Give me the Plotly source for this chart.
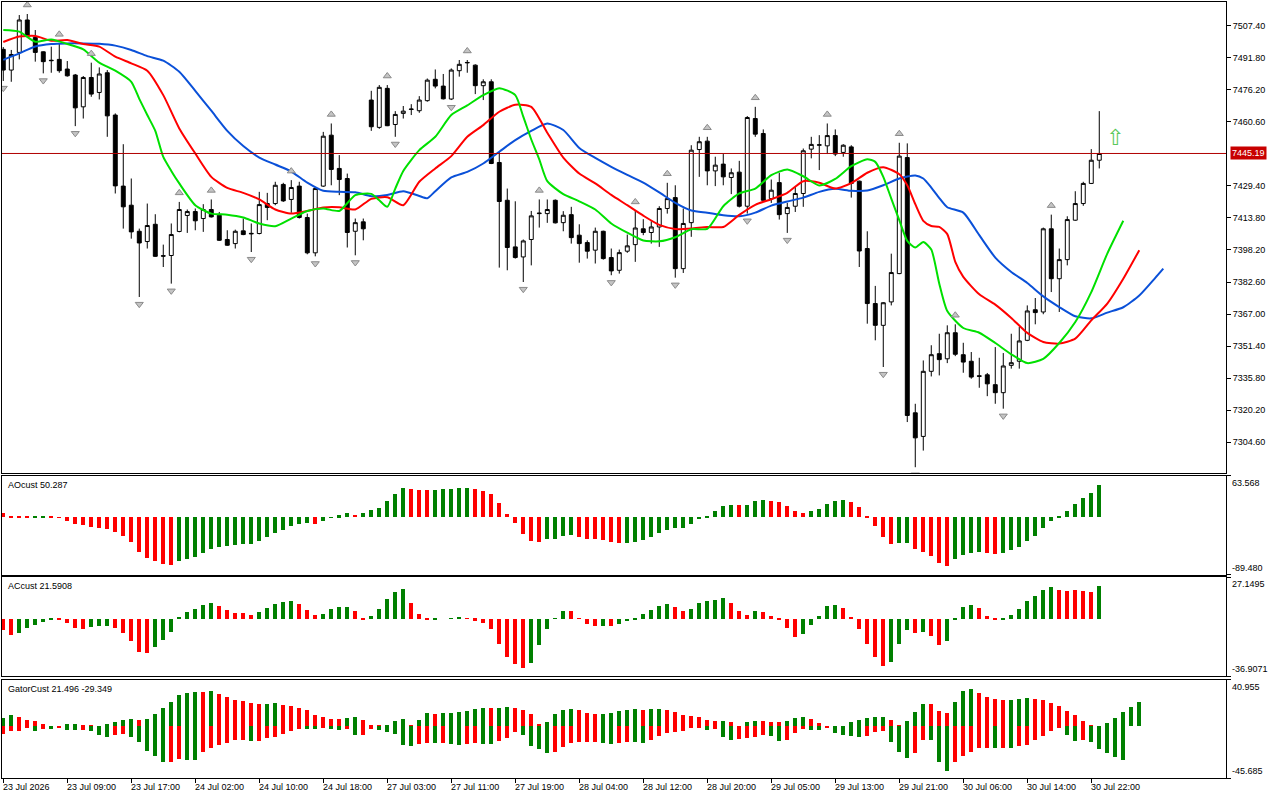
import plotly.graph_objects as go

### Data (H1 bars, 23 Jul - 30 Jul 2026) ###
#++++++++++++++++++++++++++++++++++++++++++++++++++++++++++++++++++++++++++++++#
bar_open = [
    7495.9, 7485.8, 7494.4, 7510.2, 7501.7, 7494.7, 7490.6, 7491.0, 7486.3, 7483.4,
    7467.9, 7482.2, 7474.9, 7484.5, 7463.9, 7429.3, 7420.0, 7407.3, 7402.3, 7410.7,
    7395.4, 7395.5, 7407.2, 7415.0, 7416.9, 7413.5, 7417.9, 7415.1, 7403.3, 7401.3,
    7407.5, 7406.3, 7406.2, 7420.8, 7420.8, 7430.1, 7422.8, 7429.3, 7414.0, 7396.8,
    7429.3, 7454.1, 7437.9, 7433.0, 7407.3, 7411.9, 7471.2, 7457.9, 7476.9, 7459.3,
    7464.7, 7466.6, 7466.0, 7470.9, 7481.3, 7478.0, 7471.7, 7485.5, 7489.3, 7488.2,
    7478.2, 7480.1, 7440.8, 7422.4, 7399.7, 7394.8, 7403.3, 7415.9, 7415.9, 7422.4,
    7411.5, 7415.4, 7405.4, 7401.8, 7398.1, 7407.3, 7394.5, 7388.3, 7397.6, 7400.8,
    7408.5, 7406.7, 7409.4, 7418.4, 7423.7, 7389.1, 7411.5, 7447.1, 7451.2, 7436.7,
    7440.0, 7433.5, 7436.1, 7419.5, 7462.2, 7454.9, 7423.2, 7431.0, 7415.9, 7419.5,
    7425.7, 7447.3, 7449.2, 7448.9, 7453.9, 7445.7, 7448.4, 7431.7, 7398.9, 7372.1,
    7361.5, 7372.9, 7386.7, 7443.2, 7318.9, 7307.4, 7339.1, 7347.7, 7345.2, 7357.9,
    7347.2, 7344.0, 7336.9, 7337.4, 7332.6, 7328.7, 7342.0, 7344.0, 7354.2, 7369.1,
    7368.0, 7408.5, 7384.2, 7393.5, 7412.7, 7420.8, 7430.6, 7441.9,
]
bar_high = [
    7497.0, 7495.6, 7512.6, 7513.1, 7505.3, 7494.9, 7497.2, 7498.8, 7490.2, 7483.9,
    7482.9, 7489.4, 7487.1, 7485.8, 7464.7, 7449.7, 7433.0, 7408.6, 7420.8, 7415.6,
    7400.8, 7411.1, 7421.6, 7417.9, 7418.4, 7420.5, 7422.8, 7416.7, 7407.8, 7408.1,
    7413.5, 7411.1, 7426.5, 7426.0, 7431.4, 7430.9, 7432.2, 7431.4, 7415.9, 7428.9,
    7455.7, 7459.8, 7444.4, 7435.4, 7413.5, 7413.5, 7475.7, 7478.5, 7478.5, 7465.8,
    7468.3, 7469.2, 7473.1, 7481.7, 7486.1, 7483.9, 7486.6, 7490.7, 7490.7, 7488.6,
    7481.3, 7481.3, 7446.0, 7428.1, 7421.9, 7403.3, 7417.2, 7422.8, 7422.8, 7422.8,
    7417.1, 7419.2, 7410.7, 7402.9, 7409.1, 7407.6, 7398.9, 7398.4, 7405.7, 7417.2,
    7413.2, 7412.2, 7419.5, 7430.9, 7429.7, 7418.4, 7449.2, 7453.3, 7453.3, 7443.6,
    7444.9, 7437.9, 7441.6, 7463.4, 7467.9, 7456.9, 7432.5, 7435.8, 7421.1, 7428.9,
    7447.6, 7453.3, 7454.1, 7459.8, 7456.9, 7449.7, 7449.2, 7432.0, 7407.3, 7380.7,
    7372.8, 7396.4, 7450.4, 7450.1, 7323.3, 7344.4, 7351.8, 7357.4, 7361.5, 7362.0,
    7353.0, 7348.5, 7345.7, 7338.3, 7350.9, 7348.0, 7357.4, 7360.7, 7371.2, 7374.8,
    7409.1, 7415.4, 7398.9, 7414.6, 7426.8, 7431.4, 7447.3, 7465.8,
]
bar_low = [
    7480.5, 7480.1, 7491.0, 7502.1, 7489.9, 7484.2, 7484.5, 7484.5, 7482.6, 7458.5,
    7462.2, 7472.8, 7471.5, 7453.3, 7425.7, 7408.6, 7403.7, 7375.3, 7398.9, 7394.8,
    7389.9, 7381.8, 7406.8, 7406.5, 7407.8, 7407.0, 7414.0, 7402.6, 7400.2, 7398.9,
    7405.4, 7397.2, 7405.8, 7412.7, 7420.0, 7421.6, 7416.3, 7413.5, 7396.1, 7395.1,
    7428.9, 7429.7, 7424.9, 7399.4, 7395.6, 7402.9, 7456.2, 7457.2, 7458.5, 7453.3,
    7462.2, 7463.9, 7465.0, 7470.4, 7476.9, 7471.5, 7471.2, 7482.6, 7484.5, 7474.1,
    7471.2, 7440.0, 7389.6, 7388.3, 7394.0, 7382.6, 7390.7, 7409.1, 7411.4, 7411.1,
    7407.3, 7401.3, 7392.0, 7394.0, 7391.6, 7393.5, 7385.9, 7386.7, 7396.8, 7392.4,
    7405.4, 7401.3, 7399.7, 7415.9, 7384.7, 7387.0, 7404.6, 7433.8, 7429.7, 7429.3,
    7429.7, 7425.4, 7418.9, 7415.9, 7453.3, 7421.9, 7421.1, 7413.0, 7406.5, 7416.7,
    7419.2, 7442.8, 7437.1, 7444.9, 7443.9, 7443.6, 7423.7, 7389.9, 7362.3, 7354.2,
    7341.2, 7371.2, 7386.4, 7314.4, 7292.4, 7300.5, 7336.6, 7337.1, 7343.1, 7346.5,
    7338.4, 7335.5, 7331.1, 7327.0, 7323.3, 7320.9, 7340.4, 7340.4, 7353.8, 7362.0,
    7366.9, 7377.7, 7368.0, 7390.7, 7412.4, 7419.7, 7430.3, 7437.9,
]
bar_close = [
    7485.8, 7493.4, 7510.2, 7502.4, 7494.4, 7489.9, 7490.4, 7485.5, 7483.0, 7467.4,
    7482.2, 7474.1, 7483.9, 7463.5, 7429.4, 7419.2, 7407.0, 7401.6, 7410.1, 7395.1,
    7395.2, 7405.7, 7417.9, 7416.9, 7412.4, 7417.9, 7414.3, 7402.9, 7400.5, 7407.3,
    7405.7, 7406.1, 7420.3, 7418.9, 7429.7, 7422.1, 7428.6, 7414.0, 7396.8, 7428.1,
    7453.6, 7437.4, 7432.5, 7406.7, 7411.5, 7408.5, 7458.2, 7477.4, 7458.7, 7464.2,
    7465.8, 7466.8, 7471.2, 7480.9, 7478.0, 7471.8, 7485.8, 7488.6, 7489.5, 7478.2,
    7480.1, 7440.3, 7421.8, 7399.4, 7394.5, 7402.6, 7414.8, 7416.1, 7417.9, 7411.4,
    7415.1, 7404.2, 7401.3, 7397.6, 7407.3, 7394.0, 7388.0, 7396.9, 7400.2, 7408.9,
    7406.7, 7409.4, 7418.4, 7423.2, 7389.1, 7411.1, 7446.8, 7450.9, 7436.7, 7439.5,
    7433.8, 7435.8, 7419.5, 7462.7, 7454.6, 7422.4, 7427.3, 7415.4, 7418.9, 7425.7,
    7446.5, 7449.6, 7449.4, 7453.9, 7444.9, 7449.2, 7430.6, 7397.7, 7372.1, 7361.5,
    7372.5, 7387.2, 7443.9, 7317.6, 7306.7, 7339.1, 7347.2, 7344.8, 7357.9, 7347.4,
    7343.6, 7336.3, 7336.7, 7333.0, 7328.7, 7341.7, 7343.3, 7353.9, 7368.5, 7367.7,
    7408.5, 7384.2, 7393.5, 7413.0, 7420.8, 7430.6, 7441.9, 7445.19,
]

# Bill Williams fractals (bar numbers)
fractal_up_bars = [3, 7, 11, 22, 26, 36, 41, 48, 58, 67, 79, 83, 88, 94, 103, 112, 119, 131]
fractal_down_bars = [0, 5, 9, 17, 21, 31, 39, 44, 49, 56, 65, 76, 84, 93, 98, 110, 114, 125]

# Alligator lines (bar number, value) - jaw blue, teeth red, lips green
jaw_bars = [0, 2, 4, 6, 8, 10, 12, 14, 16, 18, 20, 22, 24, 26, 28, 30, 32, 34, 36, 38,
            40, 42, 44, 46, 48, 50, 52, 53, 54, 56, 58, 60, 62, 64, 66, 68, 70, 72, 74, 76,
            78, 80, 82, 84, 86, 88, 90, 92, 94, 96, 98, 100, 102, 104, 106, 108, 110, 112,
            114, 115, 116, 117, 118, 120, 122, 124, 126, 128, 130, 132, 134, 136, 138, 140,
            142, 144, 145]
jaw_vals = [7490.8, 7493.9, 7497.3, 7498.5, 7498.8, 7498.8, 7498.6, 7497.7, 7495.6, 7492.6,
            7490.4, 7485.0, 7475.7, 7466.0, 7456.2, 7448.8, 7443.2, 7439.8, 7436.4, 7431.0,
            7427.0, 7426.5, 7426.3, 7424.4, 7425.0, 7426.8, 7424.5, 7423.4, 7426.8, 7433.5,
            7436.2, 7440.3, 7446.0, 7451.7, 7456.2, 7459.8, 7456.6, 7447.9, 7443.0, 7438.7,
            7434.8, 7431.0, 7426.2, 7421.1, 7417.4, 7416.3, 7415.1, 7414.6, 7416.4, 7419.8,
            7421.8, 7423.7, 7426.5, 7428.0, 7427.0, 7427.1, 7429.7, 7433.0, 7434.5, 7433.0,
            7428.6, 7423.5, 7419.0, 7416.4, 7405.4, 7394.5, 7387.5, 7382.1, 7375.6, 7370.4,
            7365.9, 7364.9, 7367.7, 7370.3, 7376.0, 7384.6, 7389.1]

teeth_bars = [0, 2, 4, 6, 8, 10, 12, 14, 16, 18, 20, 22, 24, 26, 28, 30, 32, 34, 36, 38,
              40, 42, 44, 46, 48, 50, 52, 54, 56, 58, 60, 62, 64, 66, 68, 70, 72, 74, 76, 78,
              80, 82, 84, 86, 88, 90, 92, 94, 96, 98, 100, 102, 104, 106, 108, 110, 112, 113,
              114, 115, 116, 117, 118, 119, 120, 122, 124, 126, 128, 130, 132, 134, 136, 138,
              140, 142]
teeth_vals = [7499.5, 7502.1, 7502.4, 7500.1, 7500.4, 7498.5, 7497.2, 7492.3, 7489.1, 7485.5,
              7473.6, 7457.4, 7445.2, 7433.8, 7428.4, 7426.0, 7422.8, 7417.9, 7415.9, 7417.2,
              7418.9, 7419.0, 7417.9, 7423.1, 7423.9, 7420.0, 7431.4, 7437.9, 7443.9, 7453.3,
              7459.0, 7465.5, 7468.9, 7467.9, 7455.3, 7443.2, 7435.4, 7430.6, 7425.0, 7420.0,
              7414.9, 7410.4, 7408.4, 7408.6, 7409.4, 7409.4, 7415.3, 7420.2, 7422.9, 7426.0,
              7431.7, 7430.9, 7428.1, 7430.7, 7435.8, 7438.5, 7435.1, 7429.7, 7420.5, 7412.4,
              7409.9, 7409.4, 7405.9, 7392.4, 7385.1, 7376.6, 7371.6, 7365.1, 7357.8, 7353.4,
              7352.6, 7355.0, 7363.9, 7372.1, 7384.2, 7398.1]

lips_bars = [0, 2, 4, 6, 8, 10, 12, 14, 16, 17, 18, 19, 20, 21, 22, 24, 26, 28, 30, 32,
             34, 36, 38, 40, 42, 44, 46, 47, 48, 49, 50, 52, 54, 56, 58, 60, 62, 64, 65, 66,
             67, 68, 70, 72, 74, 76, 78, 80, 82, 84, 86, 88, 90, 92, 94, 96, 98, 100, 102,
             104, 106, 108, 109, 110, 111, 112, 113, 114, 115, 116, 117, 118, 120, 122, 124,
             126, 128, 130, 132, 134, 136, 138, 140]
lips_vals = [7505.3, 7504.5, 7499.6, 7500.7, 7498.5, 7495.9, 7489.4, 7485.5, 7480.1, 7471.8,
             7463.9, 7456.2, 7443.5, 7436.7, 7430.6, 7420.0, 7415.9, 7415.4, 7414.0, 7411.1,
             7409.8, 7413.5, 7417.2, 7418.4, 7417.2, 7424.9, 7425.5, 7422.4, 7419.2, 7428.1,
             7436.7, 7446.8, 7453.3, 7463.9, 7468.6, 7473.6, 7477.0, 7473.6, 7463.1, 7452.0,
             7442.3, 7431.7, 7425.4, 7421.9, 7417.9, 7411.1, 7406.6, 7402.8, 7402.4, 7404.4,
             7408.3, 7408.5, 7419.5, 7425.7, 7428.1, 7434.6, 7437.4, 7434.1, 7429.6, 7432.8,
             7439.0, 7442.4, 7441.1, 7433.8, 7423.2, 7412.7, 7402.6, 7399.4, 7402.1, 7398.4,
             7381.8, 7368.5, 7360.2, 7357.9, 7352.9, 7347.4, 7343.1, 7345.2, 7352.9, 7363.1,
             7377.7, 7396.4, 7412.4]

# Awesome oscillator (g = rising bar, r = falling bar)
ao_vals = [
    6.5, 0.8, 0.6, 0.4, 0.6, 0.9, 0.5, -0.6, -6.2, -11.3,
    -12.9, -14.9, -16.5, -19.1, -22.7, -29.9, -39.2, -54.6, -63.9, -68.6,
    -73.2, -74.7, -68.6, -65.5, -61.9, -56.2, -50.0, -46.4, -44.8, -43.3,
    -42.3, -41.9, -37.6, -30.9, -24.7, -20.1, -13.9, -10.0, -9.6, -10.1,
    -6.2, -1.0, 2.6, 6.7, 3.1, 6.7, 10.5, 14.4, 24.7, 35.1,
    44.3, 42.8, 41.8, 41.5, 42.6, 43.0, 43.2, 44.3, 44.5, 42.8,
    40.2, 35.1, 21.1, 4.1, -8.8, -26.8, -37.1, -38.7, -34.5, -34.0,
    -29.4, -27.8, -30.9, -34.0, -34.5, -36.1, -38.7, -40.7, -40.2, -38.7,
    -35.6, -30.9, -24.7, -20.1, -17.0, -16.8, -10.8, -2.6, 0.5, 9.3,
    17.0, 18.6, 18.4, 18.7, 24.7, 26.3, 24.7, 23.2, 17.0, 9.3,
    5.7, 9.3, 12.4, 19.6, 24.7, 26.3, 23.2, 15.5, 1.0, -13.9,
    -30.9, -41.8, -40.7, -40.5, -49.5, -54.6, -60.8, -71.6, -75.8, -65.5,
    -59.3, -56.2, -54.6, -56.2, -56.4, -56.0, -51.5, -46.4, -37.1, -29.4,
    -17.5, -6.2, 1.0, 9.3, 19.6, 28.9, 36.6, 50.3,
]
ao_colors = ("rrrrggrrrr" "rrrrrrrrrr" "rrgggggggg" "gggggggggr" "ggggrggggg"
             "grrrgggggr" "rrrrrrrrgg" "ggrrrrrrgg" "gggggggggg" "ggrgggrrrr"
             "rgggggrrrr" "rrggrrrrrg" "gggrrggggg" "gggggggg")

# Accelerator oscillator
ac_vals = [
    -6.9, -10.3, -9.1, -5.8, -3.7, -1.9, -0.4, -0.6, -2.8, -5.8,
    -6.5, -5.4, -4.5, -4.4, -5.8, -8.8, -14.0, -21.1, -22.0, -18.1,
    -13.4, -8.2, 1.5, 4.7, 6.5, 9.1, 10.3, 8.2, 5.8, 4.1,
    3.9, 2.6, 4.7, 7.1, 9.9, 11.2, 11.6, 9.5, 5.8, 2.6,
    3.2, 6.5, 7.8, 7.9, 5.2, -0.2, 1.7, 6.5, 12.9, 17.7,
    19.4, 10.3, 3.2, -0.2, -0.1, 0.0, 0.1, 0.9, 0.4, -1.1,
    -2.6, -6.5, -16.2, -24.4, -29.1, -31.7, -28.4, -16.8, -6.5, 0.4,
    5.2, 5.1, 0.4, -3.2, -4.5, -4.4, -4.6, -3.2, -1.3, -0.4,
    3.2, 5.8, 8.4, 9.7, 7.5, 5.4, 6.5, 10.3, 11.4, 12.3,
    13.6, 10.6, 5.2, 2.6, 5.2, 4.5, 1.9, -0.4, -5.8, -11.4,
    -9.7, -3.7, 1.9, 8.4, 9.1, 7.1, 1.1, -6.3, -15.9, -24.4,
    -30.2, -27.6, -15.9, -6.9, -8.8, -8.7, -11.0, -16.6, -14.0, -0.2,
    7.5, 9.1, 7.1, 1.9, -0.4, -0.3, 2.6, 6.5, 11.6, 14.9,
    18.5, 20.5, 18.8, 18.3, 18.5, 18.3, 17.7, 21.6,
]
ac_colors = ("rrgggggrrr" "rgggrrrrrg" "gggggggrrr" "rrgggggrrr" "ggggrrgggg"
             "grrrggggrr" "rrrrrrgggg" "grrrrgrggg" "ggggrrgggg" "grrrgrrrrr"
             "gggggrrrrr" "rgggrgrrgg" "ggrrrggggg" "ggrrrrrg")

# Gator oscillator, upper |jaw-teeth| and lower -|teeth-lips|
gator_up_vals = [
    7.3, 9.7, 8.5, 5.9, 5.0, 2.3, 0.2, 0.1, 1.8, 2.3,
    0.9, 0.9, 0.1, 1.8, 4.1, 5.9, 7.0, 5.9, 6.4, 11.1,
    16.4, 21.7, 27.8, 29.6, 30.2, 30.1, 31.3, 28.4, 26.1, 23.4,
    22.6, 20.8, 19.9, 19.9, 20.8, 19.0, 18.2, 16.7, 14.1, 10.3,
    8.5, 6.7, 6.7, 7.6, 8.5, 5.9, 1.5, 0.6, 0.6, 5.0,
    6.7, 0.9, 5.9, 12.0, 11.1, 12.0, 12.0, 12.9, 13.8, 15.5,
    16.4, 16.4, 16.4, 17.3, 16.4, 14.6, 11.1, 2.3, 4.1, 11.1,
    14.6, 15.5, 14.6, 12.0, 11.1, 11.1, 12.0, 13.8, 14.6, 15.5,
    14.6, 15.5, 15.5, 14.6, 12.9, 10.3, 9.4, 8.5, 5.9, 5.0,
    5.0, 4.1, 0.1, 4.1, 5.0, 5.0, 4.1, 4.1, 5.0, 7.6,
    8.5, 6.7, 3.2, 0.1, 0.1, 0.1, 4.1, 5.9, 7.6, 8.5,
    8.5, 5.9, 1.5, 5.0, 12.9, 19.9, 19.9, 13.8, 12.0, 21.7,
    31.3, 33.1, 29.6, 26.1, 24.3, 23.4, 23.4, 24.3, 25.2, 24.3,
    23.4, 20.8, 18.2, 13.8, 10.3, 5.0, 0.6, 0.1, 3.2, 7.6,
    12.9, 17.3, 21.5,
]
gator_up_colors = ("ggrrrrrrgg" "rrrggggrgg" "gggggrgrrr" "rrrggrrrrr" "rrrggrrrgg"
                   "grggrggggg" "grggrrrrgg" "ggrrrggggg" "rggrrrrrrr" "grrggrrrgg"
                   "grrrgggggg" "grrgggrrrg" "ggrrrrgggr" "rrrrrrrggg" "ggg")
gator_down_vals = [
    -6.7, -4.4, -3.8, -0.9, -3.8, -1.8, -2.6, -0.9, -2.9, -3.2,
    -3.2, -4.4, -7.6, -9.7, -7.9, -6.2, -9.1, -14.1, -21.4, -25.8,
    -31.6, -31.6, -28.7, -29.3, -29.3, -22.8, -18.7, -16.4, -14.6, -11.7,
    -11.7, -12.6, -12.6, -10.3, -9.7, -7.0, -3.8, -2.1, -1.8, -1.8,
    -0.9, -2.6, -3.5, -2.6, -7.9, -7.9, -2.6, -3.5, -5.3, -7.0,
    -16.7, -17.6, -15.8, -14.9, -14.9, -14.9, -15.8, -16.7, -15.8, -14.9,
    -15.8, -15.8, -13.2, -10.5, -5.3, -7.9, -17.6, -20.2, -23.7, -22.8,
    -18.5, -14.9, -13.5, -13.5, -13.5, -14.4, -15.2, -14.4, -13.5, -13.5,
    -14.4, -11.7, -8.2, -5.6, -4.7, -3.8, -1.2, -1.2, -2.9, -2.1,
    -9.1, -11.7, -10.8, -10.0, -9.1, -7.3, -8.2, -12.6, -11.7, -5.6,
    -2.1, -2.9, -2.9, -0.9, -5.6, -7.3, -8.2, -9.1, -8.2, -4.7,
    -3.8, -13.5, -22.3, -27.5, -23.1, -11.7, -11.7, -31.1, -39.0, -31.1,
    -25.8, -22.3, -18.7, -18.7, -18.7, -18.7, -18.7, -17.0, -16.1, -11.7,
    -8.2, -3.8, -1.2, -7.3, -12.6, -11.7, -13.5, -19.6, -23.1, -26.7,
    -29.3,
]
gator_down_colors = ("rrrrgrgrgg" "rgggrrgggg" "grrggrrrrr" "rgrrrrrrgg" "rggrgrrggg"
                     "ggrrgrggrr" "ggrrrggggr" "rrrrrggrrg" "grrrrrrrgr" "ggrrrrggrr"
                     "rggrggggrr" "rgggrrgggr" "rrrrgrgrrr" "rrrggrgggg" "g")

# Axis labels and fixed levels
time_label_bars = [0, 8, 16, 24, 32, 40, 48, 56, 64, 72, 80, 88, 96, 104, 112, 120, 128, 136]
time_labels = ["23 Jul 2026", "23 Jul 09:00", "23 Jul 17:00", "24 Jul 02:00", "24 Jul 10:00",
               "24 Jul 18:00", "27 Jul 03:00", "27 Jul 11:00", "27 Jul 19:00", "28 Jul 04:00",
               "28 Jul 12:00", "28 Jul 20:00", "29 Jul 05:00", "29 Jul 13:00", "29 Jul 21:00",
               "30 Jul 06:00", "30 Jul 14:00", "30 Jul 22:00"]
price_ticks = [7507.40, 7491.80, 7476.20, 7460.60, 7429.40, 7413.80, 7398.20, 7382.60,
               7367.00, 7351.40, 7335.80, 7320.20, 7304.60]
price_range = [7289.83, 7518.95]
last_price = 7445.19
signal_bar = 139
signal_price = 7453.0
ao_range = [-89.480, 63.568]
ac_range = [-36.9071, 27.1495]
gator_range = [-45.685, 40.955]
ao_title = "AOcust 50.287"
ac_title = "ACcust 21.5908"
gator_title = "GatorCust 21.496 -29.349"
#++++++++++++++++++++++++++++++++++++++++++++++++++++++++++++++++++++++++++++++#


### Layout helpers ###
W, H = 1280, 800
ML, MR, MT, MB = 2, 54, 2, 22
PW, PH = W - ML - MR, H - MT - MB


def py(y_px):
    # pixel row -> paper y
    return (H - MB - y_px) / PH


GREEN_H = '#008000'
RED_H = '#FF0000'
cmap = {'g': GREEN_H, 'r': RED_H}
bars = list(range(len(bar_open)))
FONT = 'Liberation Sans'

fig = go.Figure()

# Candles
fig.add_trace(go.Candlestick(
    x=bars, open=bar_open, high=bar_high, low=bar_low, close=bar_close,
    increasing=dict(fillcolor='white', line=dict(color='black', width=1)),
    decreasing=dict(fillcolor='black', line=dict(color='black', width=1)),
    whiskerwidth=0, showlegend=False, hoverinfo='skip',
    xaxis='x', yaxis='y'
))

# Alligator
for bx, vals, col in [(jaw_bars, jaw_vals, '#0A50D8'),
                      (teeth_bars, teeth_vals, '#FF0000'),
                      (lips_bars, lips_vals, '#00E000')]:
    fig.add_trace(go.Scatter(
        x=bx, y=vals, mode='lines', line=dict(color=col, width=2, shape='spline', smoothing=0.6),
        showlegend=False, hoverinfo='skip', xaxis='x', yaxis='y'
    ))

# Fractals
fig.add_trace(go.Scatter(
    x=fractal_up_bars, y=[bar_high[b] + 4.4 for b in fractal_up_bars], mode='markers',
    marker=dict(symbol='triangle-up', size=7, color='#C4C4C4', line=dict(color='#8A8A8A', width=1)),
    showlegend=False, hoverinfo='skip', xaxis='x', yaxis='y'
))
fig.add_trace(go.Scatter(
    x=fractal_down_bars, y=[bar_low[b] - 3.5 for b in fractal_down_bars], mode='markers',
    marker=dict(symbol='triangle-down', size=7, color='#C4C4C4', line=dict(color='#8A8A8A', width=1)),
    showlegend=False, hoverinfo='skip', xaxis='x', yaxis='y'
))

# AO / AC histograms
fig.add_trace(go.Bar(x=bars, y=ao_vals, width=0.5, marker=dict(color=[cmap[c] for c in ao_colors], line=dict(width=0)),
                     showlegend=False, hoverinfo='skip', xaxis='x2', yaxis='y2'))
fig.add_trace(go.Bar(x=bars, y=ac_vals, width=0.5, marker=dict(color=[cmap[c] for c in ac_colors], line=dict(width=0)),
                     showlegend=False, hoverinfo='skip', xaxis='x3', yaxis='y3'))

# Gator
fig.add_trace(go.Bar(x=list(range(len(gator_up_vals))), y=gator_up_vals, width=0.5,
                     marker=dict(color=[cmap[c] for c in gator_up_colors], line=dict(width=0)),
                     showlegend=False, hoverinfo='skip', xaxis='x4', yaxis='y4'))
fig.add_trace(go.Bar(x=list(range(len(gator_down_vals))), y=gator_down_vals, width=0.5,
                     marker=dict(color=[cmap[c] for c in gator_down_colors], line=dict(width=0)),
                     showlegend=False, hoverinfo='skip', xaxis='x4', yaxis='y4'))

# Axes
xr = [-0.16, 152.84]
domains = {
    'main': [py(472.5), 1.0],
    'ao': [py(574.5), py(475.5)],
    'ac': [py(676.3), py(577.3)],
    'gator': [0.0, py(679.7)],
}
frame = dict(showline=True, mirror=True, linecolor='black', linewidth=1,
             showgrid=False, zeroline=False, fixedrange=True)
xbase = dict(range=xr, showticklabels=False, ticks='', **frame)

layout_axes = dict(
    xaxis=dict(anchor='y', rangeslider=dict(visible=False), **xbase),
    xaxis2=dict(anchor='y2', matches='x', **xbase),
    xaxis3=dict(anchor='y3', matches='x', **xbase),
    xaxis4=dict(anchor='y4', matches='x', range=xr, showticklabels=False, ticks='outside',
                ticklen=4, tickcolor='black', tickvals=time_label_bars, **frame),
    yaxis=dict(domain=domains['main'], range=price_range, side='right', anchor='x',
               tickvals=price_ticks, ticktext=[f'{v:.2f}' for v in price_ticks],
               ticks='outside', ticklen=4, tickcolor='black', **frame),
)
for name, ax, rng in [('ao', 'yaxis2', ao_range), ('ac', 'yaxis3', ac_range), ('gator', 'yaxis4', gator_range)]:
    layout_axes[ax] = dict(domain=domains[name], range=rng, side='right', anchor='x' + ax[-1],
                           tickvals=rng, ticktext=['', ''], ticks='outside', ticklen=4,
                           tickcolor='black', **frame)

annotations = []
# panel captions
for title, top in [(ao_title, 475.5), (ac_title, 577.3), (gator_title, 679.7)]:
    annotations.append(dict(text=title, xref='paper', yref='paper', x=4 / PW, y=py(top + 2),
                            xanchor='left', yanchor='top', showarrow=False,
                            font=dict(family=FONT, size=9, color='black')))
# min / max labels of the sub windows
for name, rng, fmt in [('ao', ao_range, '{:.3f}'), ('ac', ac_range, '{:.4f}'), ('gator', gator_range, '{:.3f}')]:
    lo, hi = domains[name]
    annotations.append(dict(text=fmt.format(rng[1]), xref='paper', yref='paper', x=1, xshift=4, y=hi,
                            xanchor='left', yanchor='top', showarrow=False,
                            font=dict(family=FONT, size=9, color='black')))
    annotations.append(dict(text=fmt.format(rng[0]), xref='paper', yref='paper', x=1, xshift=4, y=lo,
                            xanchor='left', yanchor='bottom', showarrow=False,
                            font=dict(family=FONT, size=9, color='black')))
# time axis labels, left aligned on their tick
for b, lab in zip(time_label_bars, time_labels):
    annotations.append(dict(text=lab, xref='x4', yref='paper', x=b, xshift=-2, y=py(780),
                            xanchor='left', yanchor='top', showarrow=False,
                            font=dict(family=FONT, size=9, color='black')))
# last price tag
annotations.append(dict(text=f'{last_price:.2f}', xref='paper', yref='y', x=1, xshift=4, y=last_price,
                        xanchor='left', yanchor='middle', showarrow=False, bgcolor='#C80000',
                        borderpad=1, font=dict(family=FONT, size=9, color='white')))
# buy signal arrow
annotations.append(dict(text='⇧', xref='x', yref='y', x=signal_bar, y=signal_price,
                        showarrow=False, font=dict(family='DejaVu Sans', size=22, color='#5AC85A')))

fig.update_layout(
    width=W, height=H,
    margin=dict(l=ML, r=MR, t=MT, b=MB, autoexpand=False),
    paper_bgcolor='white', plot_bgcolor='white',
    font=dict(family=FONT, size=9, color='black'),
    barmode='overlay', bargap=0,
    showlegend=False,
    annotations=annotations,
    shapes=[dict(type='line', xref='paper', yref='y', x0=0, x1=1, y0=last_price, y1=last_price,
                 line=dict(color='#B00000', width=1))],
    **layout_axes
)

# the page body keeps its default 8px margin otherwise
fig.write_html("out.html", config={'displayModeBar': False},
               post_script="document.body.style.margin='0';")
